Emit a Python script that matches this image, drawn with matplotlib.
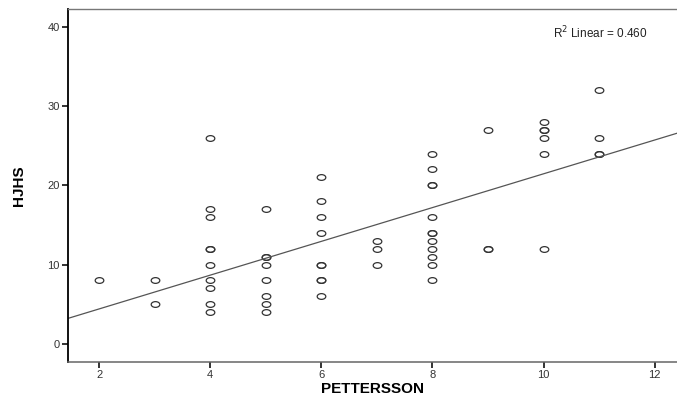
import numpy as np
from matplotlib import pyplot as plt
from matplotlib.path import Path

FIG_WIDTH = 6.77
FIG_HEIGHT = 4.0

# PETTERSSON score (x) and HJHS score (y), one entry per patient
pettersson = [2,
              3, 3,
              4, 4, 4, 4, 4, 4, 4, 4, 4, 4,
              5, 5, 5, 5, 5, 5, 5, 5,
              6, 6, 6, 6, 6, 6, 6, 6, 6,
              7, 7, 7,
              8, 8, 8, 8, 8, 8, 8, 8, 8, 8, 8, 8,
              9, 9, 9,
              10, 10, 10, 10, 10, 10,
              11, 11, 11, 11]
hjhs = [8,
        8, 5,
        26, 17, 16, 12, 12, 10, 8, 7, 5, 4,
        17, 11, 11, 10, 8, 6, 5, 4,
        21, 18, 16, 14, 10, 10, 8, 8, 6,
        13, 12, 10,
        24, 22, 20, 20, 16, 14, 14, 13, 12, 11, 10, 8,
        27, 12, 12,
        28, 27, 27, 26, 24, 12,
        32, 26, 24, 24]

# fit line as drawn in the reference
fit_intercept = 0.15
fit_slope = 2.13
r_squared = 0.460

x_ticks = [2, 4, 6, 8, 10, 12]
y_ticks = [0, 10, 20, 30, 40]
x_limits = (1.44, 12.40)
y_limits = (-2.28, 42.2)


def ellipse_marker(stretch=1.5):
    """Open circle squashed vertically, like the stretched SPSS output."""
    circle = Path.unit_circle()
    verts = circle.vertices * np.array([stretch, 1.0])
    return Path(verts, circle.codes)


def make_plot():
    plt.rcParams['font.family'] = ['Liberation Sans', 'DejaVu Sans']
    fig = plt.figure(figsize=(FIG_WIDTH, FIG_HEIGHT), dpi=100)
    ax = fig.add_axes([0.1004, 0.095, 0.8996, 0.882])

    ax.plot(pettersson, hjhs, linestyle='none', marker=ellipse_marker(),
            markersize=6.2, markerfacecolor='none', markeredgecolor='#333333',
            markeredgewidth=0.9)

    xs = np.array(x_limits)
    ax.plot(xs, fit_intercept + fit_slope * xs, color='#555555', linewidth=0.9)

    ax.set_xlim(*x_limits)
    ax.set_ylim(*y_limits)
    ax.set_xticks(x_ticks)
    ax.set_yticks(y_ticks)

    ax.spines['right'].set_visible(False)
    ax.spines['left'].set_color('black')
    ax.spines['left'].set_linewidth(1.3)
    ax.spines['bottom'].set_color('#666666')
    ax.spines['bottom'].set_linewidth(1.1)
    ax.spines['top'].set_color('#777777')
    ax.spines['top'].set_linewidth(1.0)

    ax.tick_params(axis='both', direction='out', length=4.5, width=1.2,
                   color='#111111', labelsize=8, labelcolor='#333333', pad=1.5)

    ax.set_xlabel('PETTERSSON', fontsize=11, fontweight='bold', labelpad=1)
    ax.set_ylabel('HJHS', fontsize=11, fontweight='bold', labelpad=15)

    ax.text(0.797, 0.933, 'R$^2$ Linear = {:.3f}'.format(r_squared),
            transform=ax.transAxes, fontsize=8.5, color='#222222',
            ha='left', va='center')

    fig.savefig('out.png', dpi=100)


if __name__ == '__main__':
    make_plot()
